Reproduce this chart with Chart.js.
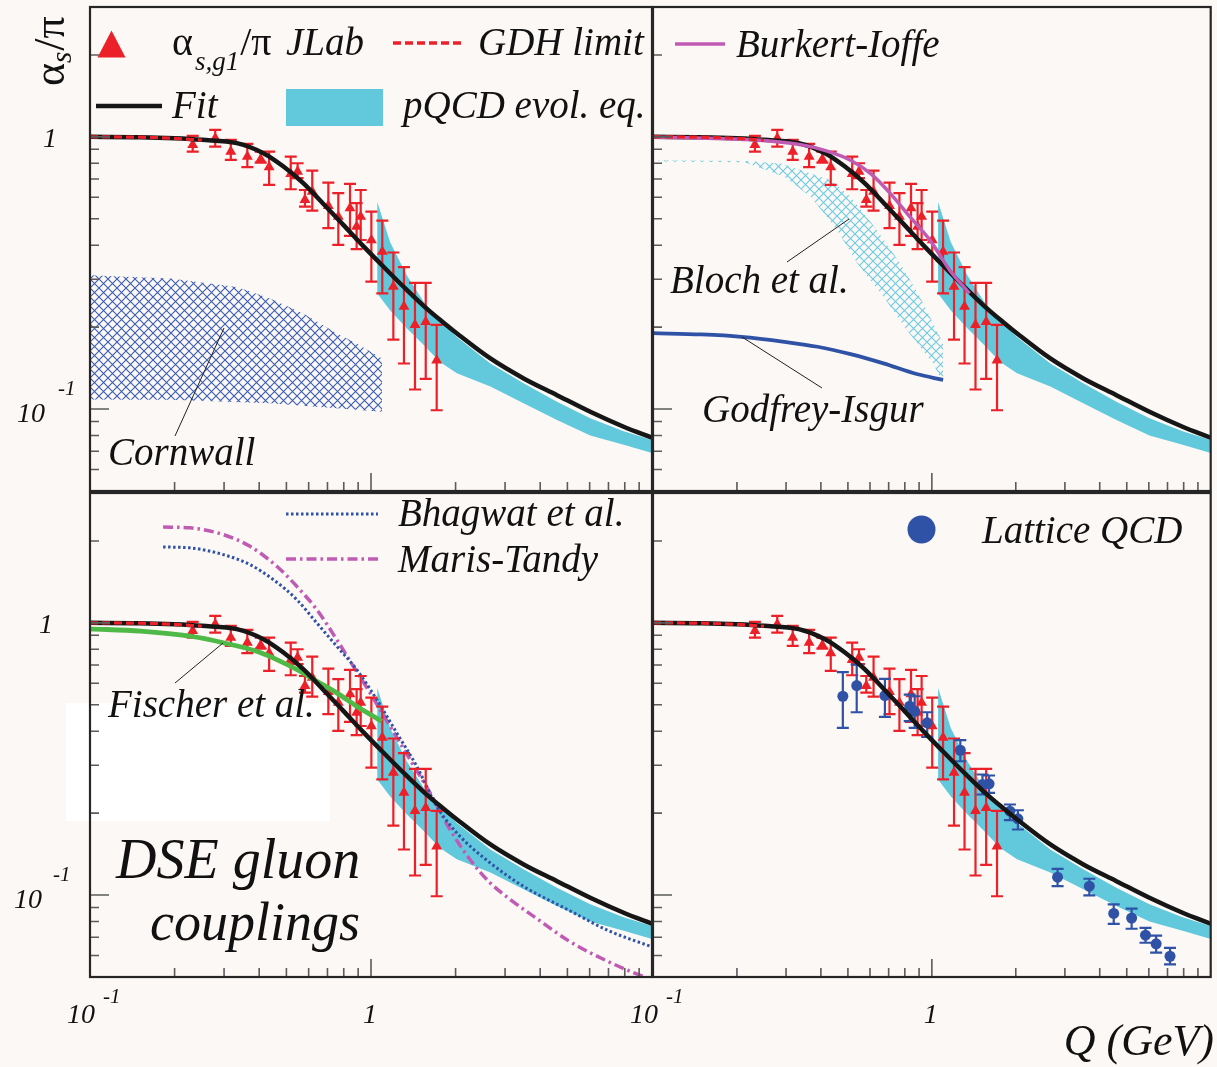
<!DOCTYPE html>
<html><head><meta charset="utf-8">
<script src="https://cdn.jsdelivr.net/npm/chart.js@4.4.1/dist/chart.umd.min.js"></script>
<style>
html,body{margin:0;padding:0;background:#fbf8f5;}
#wrap{position:relative;width:1217px;height:1067px;overflow:hidden;background:#fbf8f5;}
canvas{position:absolute;left:0;top:0;}
</style></head><body><div id="wrap">
<canvas id="cTL" width="1217" height="1067"></canvas>
<canvas id="cTR" width="1217" height="1067"></canvas>
<canvas id="cBL" width="1217" height="1067"></canvas>
<canvas id="cBR" width="1217" height="1067"></canvas>
</div>
<script>
// ---------------- DATA ----------------
// JLab alpha_s,g1/pi data (Q in GeV)
const jlabQ  = [0.232, 0.279, 0.317, 0.363, 0.405, 0.434, 0.518, 0.548, 0.582, 0.618, 0.705, 0.765, 0.842, 0.889, 0.919, 1.003, 1.097, 1.201, 1.31, 1.434, 1.566, 1.713];
const jlabA  = [0.935, 0.989, 0.883, 0.846, 0.828, 0.774, 0.731, 0.745, 0.587, 0.629, 0.558, 0.509, 0.547, 0.468, 0.509, 0.418, 0.379, 0.282, 0.238, 0.204, 0.209, 0.151];
const jlabHi = [1.009, 1.061, 0.975, 0.943, 0.883, 0.883, 0.846, 0.800, 0.638, 0.752, 0.679, 0.621, 0.672, 0.571, 0.638, 0.531, 0.492, 0.376, 0.332, 0.291, 0.291, 0.204];
const jlabLo = [0.883, 0.921, 0.823, 0.774, 0.804, 0.666, 0.642, 0.705, 0.554, 0.536, 0.462, 0.401, 0.433, 0.387, 0.418, 0.294, 0.266, 0.180, 0.147, 0.118, 0.129, 0.099];

// Fit
const fitQ = [0.1, 0.15, 0.2, 0.25, 0.333, 0.414, 0.488, 0.574, 0.676, 0.797, 0.939, 1.106, 1.303, 1.535, 1.808, 2.023, 2.66, 3.494, 4.59, 6.03, 7.93, 10];
const fitA = [1.0, 0.997, 0.988, 0.975, 0.948, 0.871, 0.778, 0.676, 0.568, 0.475, 0.397, 0.334, 0.282, 0.240, 0.208, 0.1895, 0.1534, 0.1296, 0.1125, 0.0977, 0.0861, 0.0785];

// GDH limit
const gdhQ = [0.1, 0.15, 0.2, 0.25];
const gdhA = [1.0, 0.997, 0.987, 0.972];

// pQCD evolution band
const pqcdQ  = [1.053, 1.17, 1.34, 1.54, 1.76, 2.02, 2.66, 3.49, 4.59, 6.03, 7.93, 10];
const pqcdHi = [0.577, 0.41, 0.31, 0.248, 0.212, 0.184, 0.147, 0.1245, 0.1064, 0.0925, 0.0828, 0.0770];
const pqcdLo = [0.266, 0.23, 0.198, 0.172, 0.149, 0.1354, 0.121, 0.105, 0.0911, 0.080, 0.074, 0.0689];

// Cornwall band
const cornwallHiQ = [0.1, 0.193, 0.333, 0.438, 0.574, 0.755, 0.889, 1.094];
const cornwallHi  = [0.31, 0.302, 0.281, 0.255, 0.2246, 0.19, 0.1743, 0.1535];
const cornwallLoQ = [0.1, 0.193, 0.438, 1.094];
const cornwallLo  = [0.1085, 0.1082, 0.105, 0.0977];

// Bloch et al. band
const blochHiQ = [0.1047, 0.213, 0.288, 0.4335, 0.511, 0.636, 0.769, 0.906, 1.039, 1.097];
const blochHi  = [0.821, 0.816, 0.798, 0.693, 0.602, 0.454, 0.343, 0.2585, 0.195, 0.1743];
const blochLoQ = [0.1047, 0.213, 0.296, 0.368, 0.458, 0.54, 0.671, 0.813, 1.011, 1.097];
const blochLo  = [0.812, 0.806, 0.713, 0.602, 0.454, 0.343, 0.2585, 0.195, 0.147, 0.1243];

// Burkert-Ioffe
const burkertQ = [0.1, 0.225, 0.339, 0.41, 0.511, 0.602, 0.709, 0.835, 0.984, 1.159, 1.365];
const burkertA = [0.998, 0.975, 0.935, 0.894, 0.821, 0.734, 0.62, 0.508, 0.4175, 0.324, 0.266];

// Godfrey-Isgur
const godfreyQ = [0.1, 0.149, 0.207, 0.296, 0.389, 0.511, 0.671, 0.882, 1.097];
const godfreyA = [0.19, 0.188, 0.1843, 0.1767, 0.1694, 0.1592, 0.1472, 0.1345, 0.128];

// Fischer et al.
const fischerQ = [0.1, 0.151, 0.227, 0.298, 0.392, 0.462, 0.544, 0.641, 0.755, 0.889, 1.019, 1.091];
const fischerA = [0.951, 0.932, 0.893, 0.845, 0.786, 0.733, 0.674, 0.61, 0.553, 0.494, 0.454, 0.435];

// Bhagwat et al.
const bhagwatQ = [0.182, 0.227, 0.298, 0.371, 0.449, 0.544, 0.641, 0.755, 0.889, 1.048, 1.234, 1.454, 1.713, 2.018, 2.652, 3.483, 5.108, 7.0, 10];
const bhagwatA = [1.90, 1.886, 1.782, 1.637, 1.442, 1.218, 1.0, 0.821, 0.674, 0.523, 0.3945, 0.2974, 0.212, 0.1693, 0.1314, 0.1078, 0.0875, 0.074, 0.0645];

// Maris-Tandy
const marisQ = [0.182, 0.227, 0.298, 0.371, 0.462, 0.544, 0.641, 0.755, 0.865, 0.992, 1.169, 1.376, 1.622, 1.91, 2.25, 2.652, 3.124, 3.781, 5.1, 7.0, 9.0, 10.5];
const marisA = [2.25, 2.234, 2.11, 1.911, 1.614, 1.363, 1.119, 0.8685, 0.693, 0.553, 0.4173, 0.3148, 0.2375, 0.1741, 0.1351, 0.111, 0.0964, 0.0837, 0.0675, 0.0569, 0.0509, 0.048];

// Lattice QCD
const latticeQ  = [0.4795, 0.5377, 0.6787, 0.8329, 0.868, 0.9623, 1.265, 1.519, 1.604, 1.905, 2.035, 2.824, 3.671, 4.49, 5.205, 5.837, 6.373, 7.147];
const latticeA  = [0.5376, 0.5885, 0.5408, 0.4939, 0.4734, 0.4293, 0.3404, 0.2548, 0.2563, 0.2033, 0.1906, 0.1163, 0.1078, 0.0856, 0.0823, 0.0712, 0.0662, 0.0596];
const latticeHi = [0.6587, 0.7027, 0.6227, 0.5453, 0.5376, 0.4695, 0.3706, 0.2773, 0.2749, 0.2151, 0.2049, 0.1249, 0.1148, 0.0924, 0.0891, 0.0758, 0.071, 0.064];
const latticeLo = [0.4116, 0.4695, 0.4517, 0.4352, 0.4116, 0.3815, 0.3102, 0.2341, 0.2375, 0.1884, 0.1741, 0.1078, 0.0997, 0.0784, 0.0752, 0.0668, 0.0614, 0.0556];

// Axes / ticks
const xMin = 0.1, xMax = 10, yMin = 0.05, yMax = 3.0;
const yMajorTicks = [0.1, 1];
const yMinorTicks = [0.06, 0.07, 0.08, 0.09, 0.2, 0.3, 0.4, 0.5, 0.6, 0.7, 0.8, 0.9, 2, 3];
const xMajorTicks = [1];
const xMinorTicks = [0.2, 0.3, 0.4, 0.5, 0.6, 0.7, 0.8, 0.9, 2, 3, 4, 5, 6, 7, 8, 9];
const tickBase = ['10', '1'];
const tickSup  = ['-1', ''];

// ---------------- STYLE / HELPERS ----------------
const W = 1217, H = 1067;
const SERIF = "'Liberation Serif'";
const IT = n => `italic ${n}px ${SERIF}`;
const RM = n => `${n}px ${SERIF}`;
const INK = '#111111';
const RED = '#ec2029';
const CYAN = '#62c9dd';
const BLUE = '#2f52a6';
const MAG = '#c05bb3';
const GREEN = '#4fb947';

function pts(xs, ys){ return xs.map((x,i)=>({x:x, y:ys[i]})); }
function shape(qh, hi, ql, lo){
  const a = pts(qh, hi), b = pts(ql, lo).reverse();
  return a.concat(b, [a[0]]);
}
function hatch(color, step, lw){
  const c = document.createElement('canvas'); c.width = step; c.height = step;
  const g = c.getContext('2d');
  g.strokeStyle = color; g.lineWidth = lw;
  g.beginPath();
  g.moveTo(0,0); g.lineTo(step,step);
  g.moveTo(step,0); g.lineTo(0,step);
  g.stroke();
  return g.createPattern(c, 'repeat');
}
function txt(ctx, s, x, y, font, align){
  ctx.font = font; ctx.fillStyle = INK; ctx.textAlign = align || 'left'; ctx.textBaseline = 'alphabetic';
  ctx.fillText(s, x, y);
  ctx.textAlign = 'left';
  return x + ctx.measureText(s).width;
}
function seg(ctx, x1, y1, x2, y2, color, lw, dash){
  ctx.save(); ctx.strokeStyle = color; ctx.lineWidth = lw; ctx.setLineDash(dash || []);
  ctx.beginPath(); ctx.moveTo(x1,y1); ctx.lineTo(x2,y2); ctx.stroke(); ctx.restore();
}

const dsLine = (xs, ys, color, width, dash) => ({
  data: pts(xs, ys), showLine: true, borderColor: color, borderWidth: width, borderDash: dash || [],
  pointRadius: 0, fill: false, cubicInterpolationMode: 'monotone', borderCapStyle: 'butt'
});
const dsBand = (data, bg) => ({
  data: data, showLine: true, fill: 'shape', backgroundColor: bg, borderColor: 'rgba(0,0,0,0)',
  borderWidth: 0, pointRadius: 0, tension: 0
});
const dsJlab = () => ({
  data: pts(jlabQ, jlabA), showLine: false, pointStyle: 'triangle', pointRadius: 6.3,
  backgroundColor: RED, borderColor: RED, borderWidth: 0,
  errLo: jlabLo, errHi: jlabHi, errColor: RED
});
const dsLattice = () => ({
  data: pts(latticeQ, latticeA), showLine: false, pointStyle: 'circle', pointRadius: 5.5,
  backgroundColor: BLUE, borderColor: BLUE, borderWidth: 0,
  errLo: latticeLo, errHi: latticeHi, errColor: BLUE
});

// ---------------- PLUGINS ----------------
const errorBars = {
  id: 'errorBars',
  beforeDatasetDraw(chart, args){
    const ds = chart.data.datasets[args.index];
    if (!ds.errLo) return;
    const ctx = chart.ctx, xs = chart.scales.x, ys = chart.scales.y, a = chart.chartArea;
    ctx.save();
    ctx.beginPath(); ctx.rect(a.left, a.top, a.right-a.left, a.bottom-a.top); ctx.clip();
    ctx.strokeStyle = ds.errColor; ctx.lineWidth = 2.2;
    ctx.beginPath();
    ds.data.forEach((p,i) => {
      const px = xs.getPixelForValue(p.x);
      const y1 = ys.getPixelForValue(ds.errLo[i]), y2 = ys.getPixelForValue(ds.errHi[i]);
      ctx.moveTo(px, y1); ctx.lineTo(px, y2);
      ctx.moveTo(px-6, y1); ctx.lineTo(px+6, y1);
      ctx.moveTo(px-6, y2); ctx.lineTo(px+6, y2);
    });
    ctx.stroke();
    ctx.restore();
  }
};
const frame = {
  id: 'frame',
  afterDatasetsDraw(chart){
    const ctx = chart.ctx, a = chart.chartArea, x = chart.scales.x, y = chart.scales.y;
    ctx.save();
    ctx.strokeStyle = '#5b5b5b'; ctx.lineWidth = 1.6;
    ctx.beginPath();
    yMajorTicks.forEach(v => { const p = y.getPixelForValue(v); ctx.moveTo(a.left, p); ctx.lineTo(a.left+19, p); });
    yMinorTicks.forEach(v => { const p = y.getPixelForValue(v); if (p < a.top+2 || p > a.bottom-2) return; ctx.moveTo(a.left, p); ctx.lineTo(a.left+9, p); });
    xMajorTicks.forEach(v => { const p = x.getPixelForValue(v); ctx.moveTo(p, a.bottom); ctx.lineTo(p, a.bottom-18); });
    xMinorTicks.forEach(v => { const p = x.getPixelForValue(v); ctx.moveTo(p, a.bottom); ctx.lineTo(p, a.bottom-9); });
    ctx.stroke();
    ctx.strokeStyle = '#262626'; ctx.lineWidth = 2.2;
    ctx.strokeRect(a.left, a.top, a.right-a.left, a.bottom-a.top);
    ctx.restore();
  }
};

function yLabels(chart, xTen, xSup, xOne){
  const ctx = chart.ctx, y = chart.scales.y;
  yMajorTicks.forEach((v,i) => {
    const p = y.getPixelForValue(v);
    if (tickSup[i]) {
      txt(ctx, tickBase[i], xTen, p+12.5, IT(28), 'right');
      txt(ctx, tickSup[i], xSup, p-14, IT(21));
    } else {
      txt(ctx, tickBase[i], xOne, p+10.5, IT(28), 'center');
    }
  });
}
function xLabels(chart){
  const ctx = chart.ctx, x = chart.scales.x, a = chart.chartArea;
  [0.1, 1].forEach((v,i) => {
    const p = x.getPixelForValue(v);
    if (tickSup[i]) {
      txt(ctx, tickBase[i], p+5, a.bottom+46, IT(28), 'right');
      txt(ctx, tickSup[i], p+13, a.bottom+26, IT(21));
    } else {
      txt(ctx, tickBase[i], p-1, a.bottom+46, IT(28), 'center');
    }
  });
}

function makeChart(id, area, datasets, extra){
  return new Chart(document.getElementById(id), {
    type: 'scatter',
    data: { datasets: datasets },
    options: {
      responsive: false, animation: false, devicePixelRatio: 1, events: [],
      layout: { padding: { left: area.l, top: area.t, right: W - area.r, bottom: H - area.b } },
      scales: {
        x: { type: 'logarithmic', min: xMin, max: xMax, display: false },
        y: { type: 'logarithmic', min: yMin, max: yMax, display: false }
      },
      plugins: { legend: { display: false }, tooltip: { enabled: false } }
    },
    plugins: [errorBars, frame].concat(extra)
  });
}

const cornwallPat = hatch('#3b5cb4', 9, 1.1);
const blochPat = hatch('#6ccae1', 9, 1.1);

// ---------------- TOP LEFT ----------------
makeChart('cTL', {l:90, t:7, r:652, b:491}, [
  dsLine(gdhQ, gdhA, RED, 3.2, [8,4]),
  dsLine(fitQ, fitA, '#161616', 4.5),
  dsJlab(),
  dsBand(shape(pqcdQ, pqcdHi, pqcdQ, pqcdLo), CYAN),
  dsBand(shape(cornwallHiQ, cornwallHi, cornwallLoQ, cornwallLo), cornwallPat)
], [{
  id: 'decorTL',
  afterDraw(chart){
    const ctx = chart.ctx;
    ctx.save(); ctx.fillStyle = RED; ctx.beginPath();
    ctx.moveTo(97.5, 57.5); ctx.lineTo(125.5, 57.5); ctx.lineTo(111.5, 30.5); ctx.closePath(); ctx.fill(); ctx.restore();
    let xx = txt(ctx, 'α', 172, 55, RM(40));
    xx = txt(ctx, 's,g1', xx + 2, 70, IT(27));
    xx = txt(ctx, '/π', xx + 1, 55, RM(40));
    txt(ctx, 'JLab', 286, 55, IT(39));
    seg(ctx, 393, 43, 461, 43, RED, 3.5, [8,4]);
    txt(ctx, 'GDH limit', 478, 55, IT(39));
    seg(ctx, 96, 106, 162, 106, '#161616', 4.5);
    txt(ctx, 'Fit', 172, 118, IT(39));
    ctx.save(); ctx.fillStyle = CYAN; ctx.fillRect(286, 89, 97, 37); ctx.restore();
    txt(ctx, 'pQCD evol. eq.', 403, 118, IT(39));
    seg(ctx, 175, 436, 224, 328, '#222', 1);
    txt(ctx, 'Cornwall', 108, 465, IT(39));
    ctx.save(); ctx.translate(64, 86); ctx.rotate(-Math.PI/2);
    let t = txt(ctx, 'α', 0, 0, RM(44));
    t = txt(ctx, 's', t, 7, IT(29));
    txt(ctx, '/π', t + 1, 0, RM(44));
    ctx.restore();
    yLabels(chart, 45, 58, 50);
  }
}]);

// ---------------- TOP RIGHT ----------------
makeChart('cTR', {l:653, t:7, r:1215, b:491}, [
  dsLine(gdhQ, gdhA, RED, 3.2, [8,4]),
  dsLine(burkertQ, burkertA, MAG, 3.5),
  dsLine(fitQ, fitA, '#161616', 4.5),
  dsJlab(),
  dsLine(godfreyQ, godfreyA, BLUE, 3.8),
  dsBand(shape(pqcdQ, pqcdHi, pqcdQ, pqcdLo), CYAN),
  dsBand(shape(blochHiQ, blochHi, blochLoQ, blochLo), blochPat)
], [{
  id: 'decorTR',
  afterDraw(chart){
    const ctx = chart.ctx;
    seg(ctx, 675, 44, 725, 44, MAG, 3.5);
    txt(ctx, 'Burkert-Ioffe', 736, 57, IT(39));
    seg(ctx, 787, 262, 849, 219, '#222', 1);
    txt(ctx, 'Bloch et al.', 670, 293, IT(39));
    seg(ctx, 742, 337, 822, 388, '#222', 1);
    txt(ctx, 'Godfrey-Isgur', 702, 422, IT(39));
  }
}]);

// ---------------- BOTTOM LEFT ----------------
makeChart('cBL', {l:90, t:493, r:652, b:977}, [
  dsLine(gdhQ, gdhA, RED, 3.2, [8,4]),
  dsLine(fitQ, fitA, '#161616', 4.5),
  dsLine(fischerQ, fischerA, GREEN, 4.8),
  dsJlab(),
  dsLine(bhagwatQ, bhagwatA, BLUE, 3, [2.5,2.5]),
  dsLine(marisQ, marisA, MAG, 3.5, [10,4,2.5,4]),
  dsBand(shape(pqcdQ, pqcdHi, pqcdQ, pqcdLo), CYAN)
], [{
  id: 'decorBL',
  beforeDatasetsDraw(chart){
    const ctx = chart.ctx; ctx.save(); ctx.fillStyle = '#ffffff'; ctx.fillRect(66, 703, 264, 118); ctx.restore();
  },
  afterDraw(chart){
    const ctx = chart.ctx;
    seg(ctx, 286, 514, 378, 514, BLUE, 3, [2.5,2.5]);
    txt(ctx, 'Bhagwat et al.', 398, 526, IT(39));
    seg(ctx, 286, 559, 378, 559, MAG, 3.5, [10,4,2.5,4]);
    txt(ctx, 'Maris-Tandy', 398, 572, IT(39));
    seg(ctx, 175, 683, 223, 643, '#222', 1);
    txt(ctx, 'Fischer et al.', 108, 717, IT(39));
    txt(ctx, 'DSE gluon', 116, 878, IT(56));
    txt(ctx, 'couplings', 150, 940, IT(54));
    yLabels(chart, 42, 53, 46);
    xLabels(chart);
  }
}]);

// ---------------- BOTTOM RIGHT ----------------
makeChart('cBR', {l:653, t:493, r:1215, b:977}, [
  dsLine(gdhQ, gdhA, RED, 3.2, [8,4]),
  dsLine(fitQ, fitA, '#161616', 4.5),
  dsLattice(),
  dsJlab(),
  dsBand(shape(pqcdQ, pqcdHi, pqcdQ, pqcdLo), CYAN)
], [{
  id: 'decorBR',
  afterDraw(chart){
    const ctx = chart.ctx;
    ctx.save(); ctx.fillStyle = BLUE; ctx.beginPath(); ctx.arc(921.5, 529.5, 14, 0, Math.PI*2); ctx.fill(); ctx.restore();
    txt(ctx, 'Lattice QCD', 982, 543, IT(39));
    xLabels(chart);
    txt(ctx, 'Q (GeV)', 1214, 1055, IT(44), 'right');
  }
}]);
</script>
</body></html>
